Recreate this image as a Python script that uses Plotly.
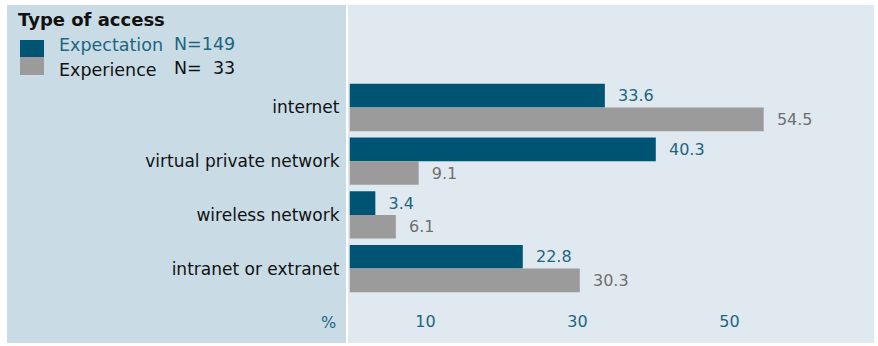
import plotly.graph_objects as go

# Survey: type of remote access, share of respondents in %
categories = ["internet", "virtual private network", "wireless network", "intranet or extranet"]
series_names = ["Expectation", "Experience"]
series_n = ["N=149", "N=\u00a0\u00a033"]
expectation = [33.6, 40.3, 3.4, 22.8]
experience = [54.5, 9.1, 6.1, 30.3]
tick_values = [10, 30, 50]
tick_labels = ["10", "30", "50"]

W, H = 878, 346
FONT = "DejaVu Sans"
TEAL_BAR = "#005473"
GREY_BAR = "#9b9b9b"
TEAL_TEXT = "#1d6581"
GREY_TEXT = "#6f6f6f"
LEFT_BG = "#c9dce6"
RIGHT_BG = "#e0e9ef"


def px_x(p):
    return p / W


def px_y(p):
    return 1 - p / H


fig = go.Figure()
fig.add_trace(go.Bar(
    y=categories, x=expectation, name=series_names[0], orientation="h",
    marker=dict(color=TEAL_BAR, line=dict(width=0)),
    text=expectation, texttemplate="\u00a0\u00a0%{x:.1f}", textposition="outside",
    textfont=dict(color=TEAL_TEXT, size=16, family=FONT), cliponaxis=False,
))
fig.add_trace(go.Bar(
    y=categories, x=experience, name=series_names[1], orientation="h",
    marker=dict(color=GREY_BAR, line=dict(width=0)),
    text=experience, texttemplate="\u00a0\u00a0%{x:.1f}", textposition="outside",
    textfont=dict(color=GREY_TEXT, size=16, family=FONT), cliponaxis=False,
))

# pixel placement of the category axis
top_px, bottom_px = 5, 310
first_c, pitch = 107.5, 53.7
y_top_val = -(first_c - top_px) / pitch
y_bot_val = (bottom_px - first_c) / pitch

shapes = [
    dict(type="rect", xref="paper", yref="paper", layer="below",
         x0=px_x(7), x1=px_x(346), y0=px_y(343), y1=px_y(5),
         fillcolor=LEFT_BG, line=dict(width=0)),
    dict(type="rect", xref="paper", yref="paper", layer="below",
         x0=px_x(348), x1=px_x(874), y0=px_y(343), y1=px_y(5),
         fillcolor=RIGHT_BG, line=dict(width=0)),
    # legend swatches
    dict(type="rect", xref="paper", yref="paper",
         x0=px_x(20), x1=px_x(44), y0=px_y(57), y1=px_y(40),
         fillcolor=TEAL_BAR, line=dict(width=0)),
    dict(type="rect", xref="paper", yref="paper",
         x0=px_x(20), x1=px_x(44), y0=px_y(75), y1=px_y(57),
         fillcolor=GREY_BAR, line=dict(width=0)),
]

annotations = [
    dict(text="<b>Type of access</b>", xref="paper", yref="paper", x=px_x(16), y=px_y(20),
         xanchor="left", yanchor="middle", showarrow=False,
         font=dict(family=FONT, size=18, color="#111111")),
    dict(text=series_names[0], xref="paper", yref="paper", x=px_x(57), y=px_y(45),
         xanchor="left", yanchor="middle", showarrow=False,
         font=dict(family=FONT, size=17.5, color=TEAL_TEXT)),
    dict(text=series_n[0], xref="paper", yref="paper", x=px_x(172), y=px_y(44),
         xanchor="left", yanchor="middle", showarrow=False,
         font=dict(family=FONT, size=17.5, color=TEAL_TEXT)),
    dict(text=series_names[1], xref="paper", yref="paper", x=px_x(57), y=px_y(70),
         xanchor="left", yanchor="middle", showarrow=False,
         font=dict(family=FONT, size=17.5, color="#111111")),
    dict(text=series_n[1], xref="paper", yref="paper", x=px_x(172), y=px_y(68),
         xanchor="left", yanchor="middle", showarrow=False,
         font=dict(family=FONT, size=17.5, color="#111111")),
    dict(text="%", xref="paper", yref="paper", x=px_x(328), y=px_y(322),
         xanchor="center", yanchor="middle", showarrow=False,
         font=dict(family=FONT, size=16, color=TEAL_TEXT)),
]

x_max = (874 - 349.5) / 7.6

fig.update_layout(
    width=W, height=H, margin=dict(l=0, r=0, t=0, b=0),
    paper_bgcolor="white", plot_bgcolor="rgba(0,0,0,0)",
    barmode="group", bargap=0.12, bargroupgap=0.0,
    showlegend=False, shapes=shapes, annotations=annotations,
    font=dict(family=FONT, size=16),
    xaxis=dict(domain=[349.5 / W, 874 / W], range=[0, x_max],
               tickvals=tick_values, ticktext=tick_labels,
               showgrid=False, zeroline=False, showline=False,
               ticks="", tickfont=dict(color=TEAL_TEXT, size=16, family=FONT)),
    yaxis=dict(domain=[px_y(bottom_px), px_y(top_px)],
               range=[y_bot_val, y_top_val],
               categoryorder="array", categoryarray=categories,
               showgrid=False, zeroline=False, showline=False,
               ticks="", ticklabelstandoff=9,
               tickfont=dict(color="#111111", size=17, family=FONT)),
)

fig.write_html("out.html")
